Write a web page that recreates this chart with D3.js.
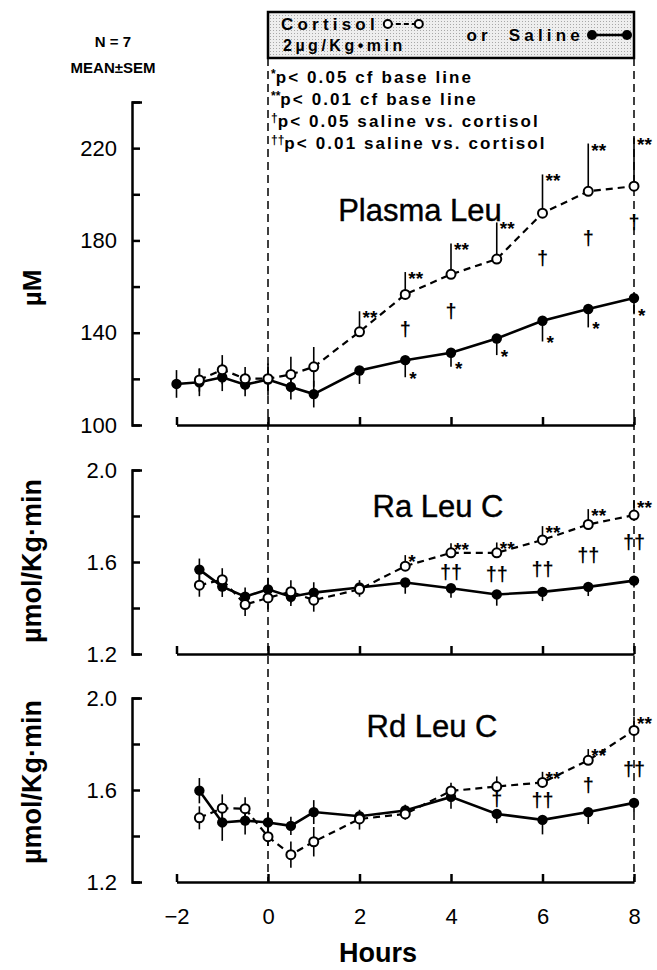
<!DOCTYPE html>
<html>
<head>
<meta charset="utf-8">
<script src="https://cdnjs.cloudflare.com/ajax/libs/d3/7.8.5/d3.min.js"></script>
<style>
body { margin: 0; background: #fff; }
svg text { font-family: "Liberation Sans", Arial, sans-serif; fill: #000; }
.axis path, .axis line { stroke: #000; stroke-width: 2.5; }
.axis text { font-family: "Liberation Sans", Arial, sans-serif; font-size: 22px; fill: #000; }
</style>
</head>
<body>
<svg width="657" height="970"></svg>
<script>
// sampling times (hours), same for all three panels
var hours = [-2, -1.5, -1, -0.5, 0, 0.5, 1, 2, 3, 4, 5, 6, 7, 8];

// Plasma Leu (uM)
var leuCort    = [null, 119.5, 124.0, 120.1, 120.1, 121.9, 125.2, 140.4, 156.6, 165.3, 171.9, 191.8, 201.3, 203.5];
var leuCortSem = [null, 5, 6.3, 5, 5, 7.7, 8.6, 8.9, 9.7, 13.4, 15.9, 16.8, 20.7, 21.1];
var leuSal     = [117.8, 118.5, 120.7, 117.5, 119.7, 116.5, 113.4, 123.6, 128.1, 131.3, 137.5, 145.2, 150.3, 155.0];
var leuSalSem  = [6, 6, 6, 5, 7, 5.5, 5.8, 5.8, 7.4, 6.1, 7.2, 9, 8, 7];
var leuCortSig = ["", "", "", "", "", "", "", "**", "**", "**", "**", "**", "**", "**"];
var leuSalSig  = ["", "", "", "", "", "", "", "", "*", "*", "*", "*", "*", "*"];
var leuDag     = ["", "", "", "", "", "", "", "", "\u2020", "\u2020", "", "\u2020", "\u2020", "\u2020"];
var leuDagVal  = [null, null, null, null, null, null, null, null, 141.5, 149.6, null, 172.4, 181.2, 187.8];

// Ra Leu C (umol/Kg.min)
var raCort    = [null, 1.499, 1.523, 1.415, 1.444, 1.471, 1.434, 1.481, 1.582, 1.640, 1.640, 1.696, 1.763, 1.804];
var raCortSem = [null, 0.05, 0.05, 0.05, 0.05, 0.05, 0.05, 0.04, 0.048, 0.041, 0.045, 0.06, 0.067, 0.063];
var raSal     = [null, 1.567, 1.493, 1.449, 1.481, 1.449, 1.467, 1.489, 1.511, 1.486, 1.459, 1.470, 1.492, 1.519];
var raSalSem  = [null, 0.048, 0.045, 0.04, 0.05, 0.04, 0.045, 0.04, 0.049, 0.041, 0.049, 0.04, 0.04, 0.03];
var raCortSig = ["", "", "", "", "", "", "", "", "*", "**", "**", "**", "**", "**"];
var raSalSig  = ["", "", "", "", "", "", "", "", "", "", "", "", "", ""];
var raDag     = ["", "", "", "", "", "", "", "", "", "\u2020\u2020", "\u2020\u2020", "\u2020\u2020", "\u2020\u2020", "\u2020\u2020"];
var raDagVal  = [null, null, null, null, null, null, null, null, null, 1.556, 1.548, 1.570, 1.630, 1.689];

// Rd Leu C (umol/Kg.min)
var rdCort    = [null, 1.479, 1.521, 1.519, 1.397, 1.319, 1.375, 1.474, 1.496, 1.596, 1.615, 1.633, 1.729, 1.859];
var rdCortSem = [null, 0.05, 0.06, 0.05, 0.04, 0.057, 0.064, 0.04, 0.04, 0.035, 0.044, 0.046, 0.049, 0.06];
var rdSal     = [null, 1.597, 1.459, 1.467, 1.459, 1.444, 1.504, 1.486, 1.511, 1.570, 1.496, 1.470, 1.504, 1.544];
var rdSalSem  = [null, 0.055, 0.08, 0.06, 0.04, 0.04, 0.052, 0.058, 0.04, 0.052, 0.04, 0.063, 0.052, 0.04];
var rdCortSig = ["", "", "", "", "", "", "", "", "", "", "", "**", "**", "**"];
var rdSalSig  = ["", "", "", "", "", "", "", "", "", "", "", "", "", ""];
var rdDag     = ["", "", "", "", "", "", "", "", "", "", "\u2020", "\u2020\u2020", "\u2020", "\u2020\u2020"];
var rdDagVal  = [null, null, null, null, null, null, null, null, null, null, 1.563, 1.556, 1.622, 1.693];

// axis ticks / labels
var xTicks = [-2, 0, 2, 4, 6, 8];
var leuTicks = [100, 120, 140, 160, 180, 200, 220, 240];
var leuLabels = [100, 140, 180, 220];
var rateTicks = [1.2, 1.4, 1.6, 1.8, 2.0];
var rateLabels = [1.2, 1.6, 2.0];

var legendLines = [
  ["*", "p< 0.05  cf  base  line"],
  ["**", "p< 0.01  cf  base  line"],
  ["\u2020", "p< 0.05  saline  vs. cortisol"],
  ["\u2020\u2020", "p< 0.01  saline  vs. cortisol"]
];

var svg = d3.select('svg');

var xScale = d3.scaleLinear().domain([-2, 8]).range([176.5, 634]);
var yAxisX = 132;

var panels = [
  {title: 'Plasma Leu', tx: 420, ty: 221, ylab: '\u00b5M', ly: 288, lsize: 26,
   cort: leuCort, cortSem: leuCortSem, sal: leuSal, salSem: leuSalSem,
   cortSig: leuCortSig, salSig: leuSalSig, dag: leuDag, dagVal: leuDagVal,
   domain: [100, 240], range: [425, 102], ticks: leuTicks, labels: leuLabels, fmt: d3.format('d')},
  {title: 'Ra Leu C', tx: 438, ty: 517, ylab: '\u00b5mol/Kg\u00b7min', ly: 561, lsize: 27,
   cort: raCort, cortSem: raCortSem, sal: raSal, salSem: raSalSem,
   cortSig: raCortSig, salSig: raSalSig, dag: raDag, dagVal: raDagVal,
   domain: [1.2, 2.0], range: [654, 470], ticks: rateTicks, labels: rateLabels, fmt: d3.format('.1f')},
  {title: 'Rd Leu C', tx: 432, ty: 737, ylab: '\u00b5mol/Kg\u00b7min', ly: 782, lsize: 27,
   cort: rdCort, cortSem: rdCortSem, sal: rdSal, salSem: rdSalSem,
   cortSig: rdCortSig, salSig: rdSalSig, dag: rdDag, dagVal: rdDagVal,
   domain: [1.2, 2.0], range: [882, 698], ticks: rateTicks, labels: rateLabels, fmt: d3.format('.1f')}
];

// stipple pattern for the legend header
var defs = svg.append('defs');
var pat = defs.append('pattern').attr('id', 'stip')
    .attr('width', 3).attr('height', 3).attr('patternUnits', 'userSpaceOnUse');
pat.append('rect').attr('width', 3).attr('height', 3).attr('fill', '#eeeeee');
pat.append('rect').attr('width', 1).attr('height', 1).attr('fill', '#a8a8a8');

// dashed guide lines at start of infusion and at 8 h
[0, 8].forEach(function(h) {
  svg.append('line')
      .attr('x1', xScale(h)).attr('x2', xScale(h))
      .attr('y1', 58).attr('y2', 882)
      .style('stroke', '#000').style('stroke-width', 1.5)
      .style('stroke-dasharray', '8,5');
});

// legend box header
svg.append('rect')
    .attr('x', xScale(0)).attr('y', 12)
    .attr('width', xScale(8) - xScale(0)).attr('height', 46)
    .style('fill', 'url(#stip)').style('stroke', '#000').style('stroke-width', 2.5);

var cortTxt = svg.append('text').attr('x', 281).attr('y', 30)
    .style('font-size', '17px').style('font-weight', 'bold').style('letter-spacing', '4.2px')
    .text('Cortisol');
var cEnd = 281 + cortTxt.node().getComputedTextLength() + 4;
svg.append('line').attr('x1', cEnd + 5).attr('x2', cEnd + 34).attr('y1', 24).attr('y2', 24)
    .style('stroke', '#000').style('stroke-width', 2).style('stroke-dasharray', '5,3');
[cEnd + 5, cEnd + 36].forEach(function(cx) {
  svg.append('circle').attr('cx', cx).attr('cy', 24).attr('r', 4)
      .style('fill', '#fff').style('stroke', '#000').style('stroke-width', 2);
});
svg.append('text').attr('x', 283).attr('y', 51)
    .style('font-size', '16px').style('font-weight', 'bold').style('letter-spacing', '3.5px')
    .text('2\u00b5g/Kg\u2022min');
svg.append('text').attr('x', 584).attr('y', 41).attr('text-anchor', 'end')
    .style('font-size', '17px').style('font-weight', 'bold').style('letter-spacing', '4.2px')
    .style('word-spacing', '8px')
    .text('or Saline');
svg.append('line').attr('x1', 592).attr('x2', 627).attr('y1', 35).attr('y2', 35)
    .style('stroke', '#000').style('stroke-width', 2.5);
[592, 627].forEach(function(cx) {
  svg.append('circle').attr('cx', cx).attr('cy', 35).attr('r', 5).style('fill', '#000');
});

// significance key
legendLines.forEach(function(l, i) {
  var t = svg.append('text').attr('x', 271).attr('y', 83 + i * 22)
      .style('font-size', '17px').style('font-weight', 'bold').style('letter-spacing', '2.1px');
  t.append('tspan').attr('dy', -5).style('font-size', '12px').style('letter-spacing', '0px').text(l[0]);
  t.append('tspan').attr('dy', 5).text(l[1]);
});

// N and mean +- sem
svg.append('text').attr('x', 113).attr('y', 47).attr('text-anchor', 'middle')
    .style('font-size', '15px').style('font-weight', 'bold').text('N = 7');
svg.append('text').attr('x', 113).attr('y', 73).attr('text-anchor', 'middle')
    .style('font-size', '15px').style('font-weight', 'bold').text('MEAN\u00b1SEM');

panels.forEach(function(p, pi) {
  var yScale = d3.scaleLinear().domain(p.domain).range(p.range);
  var g = svg.append('g');

  var yAxis = d3.axisLeft(yScale)
      .tickValues(p.ticks)
      .tickSizeInner(-8).tickSizeOuter(-10).tickPadding(15)
      .tickFormat(function(d) { return p.labels.indexOf(d) >= 0 ? p.fmt(d) : ''; });
  g.append('g').attr('class', 'axis')
      .attr('transform', 'translate(' + yAxisX + ',0)')
      .call(yAxis);

  var xAxis = d3.axisBottom(xScale)
      .tickValues(xTicks)
      .tickSizeInner(-8).tickSizeOuter(0).tickPadding(26)
      .tickFormat(pi == 2 ? d3.format('d') : function() { return ''; });
  g.append('g').attr('class', 'axis')
      .attr('transform', 'translate(0,' + p.range[0] + ')')
      .call(xAxis);

  // panel title
  g.append('text').attr('x', p.tx).attr('y', p.ty).attr('text-anchor', 'middle')
      .style('font-size', '31px').style('stroke', '#000').style('stroke-width', 0.4)
      .text(p.title);

  // y label
  g.append('text')
      .attr('transform', 'translate(41,' + p.ly + ') rotate(-90)')
      .attr('text-anchor', 'middle')
      .style('font-size', p.lsize + 'px').style('font-weight', 'bold')
      .text(p.ylab);

  var data = hours.map(function(h, i) {
    return {h: h, c: p.cort[i], cs: p.cortSem[i], s: p.sal[i], ss: p.salSem[i],
            cSig: p.cortSig[i], sSig: p.salSig[i], dag: p.dag[i], dv: p.dagVal[i]};
  });

  // error bars: both ways before 2 h, then cortisol up / saline down
  data.forEach(function(d) {
    if (d.s != null) {
      g.append('line')
          .attr('x1', xScale(d.h)).attr('x2', xScale(d.h))
          .attr('y1', yScale(d.h < 2 ? d.s + d.ss : d.s))
          .attr('y2', yScale(d.s - d.ss))
          .style('stroke', '#000').style('stroke-width', 1.6);
    }
    if (d.c != null) {
      g.append('line')
          .attr('x1', xScale(d.h)).attr('x2', xScale(d.h))
          .attr('y1', yScale(d.c + d.cs))
          .attr('y2', yScale(d.h < 2 ? d.c - d.cs : d.c))
          .style('stroke', '#000').style('stroke-width', 1.6);
    }
  });

  var salLine = d3.line()
      .defined(function(d) { return d.s != null; })
      .x(function(d) { return xScale(d.h); })
      .y(function(d) { return yScale(d.s); });
  var cortLine = d3.line()
      .defined(function(d) { return d.c != null; })
      .x(function(d) { return xScale(d.h); })
      .y(function(d) { return yScale(d.c); });

  g.append('path').datum(data).attr('d', salLine)
      .style('fill', 'none').style('stroke', '#000').style('stroke-width', 2.6);
  g.append('path').datum(data).attr('d', cortLine)
      .style('fill', 'none').style('stroke', '#000').style('stroke-width', 2.2)
      .style('stroke-dasharray', '7,5');

  g.selectAll('.sal').data(data.filter(function(d) { return d.s != null; }))
    .enter().append('circle')
      .attr('class', 'sal')
      .attr('cx', function(d) { return xScale(d.h); })
      .attr('cy', function(d) { return yScale(d.s); })
      .attr('r', 5.2)
      .style('fill', '#000');

  g.selectAll('.cort').data(data.filter(function(d) { return d.c != null; }))
    .enter().append('circle')
      .attr('class', 'cort')
      .attr('cx', function(d) { return xScale(d.h); })
      .attr('cy', function(d) { return yScale(d.c); })
      .attr('r', 4.5)
      .style('fill', '#fff').style('stroke', '#000').style('stroke-width', 2);

  // significance marks
  data.forEach(function(d) {
    if (d.cSig) {
      g.append('text').attr('x', xScale(d.h) + 3).attr('y', yScale(d.c + d.cs) + 13)
          .style('font-size', '19px').style('font-weight', 'bold').text(d.cSig);
    }
    if (d.sSig) {
      g.append('text').attr('x', xScale(d.h) + 4).attr('y', yScale(d.s - d.ss) + 8)
          .style('font-size', '19px').style('font-weight', 'bold').text(d.sSig);
    }
    if (d.dag) {
      g.append('text').attr('x', xScale(d.h)).attr('y', yScale(d.dv) + 7)
          .attr('text-anchor', 'middle')
          .style('font-size', '20px').style('font-weight', 'bold').text(d.dag);
    }
  });
});

// x axis title
svg.append('text').attr('x', 378).attr('y', 962).attr('text-anchor', 'middle')
    .style('font-size', '27px').style('font-weight', 'bold').text('Hours');
</script>
</body>
</html>
